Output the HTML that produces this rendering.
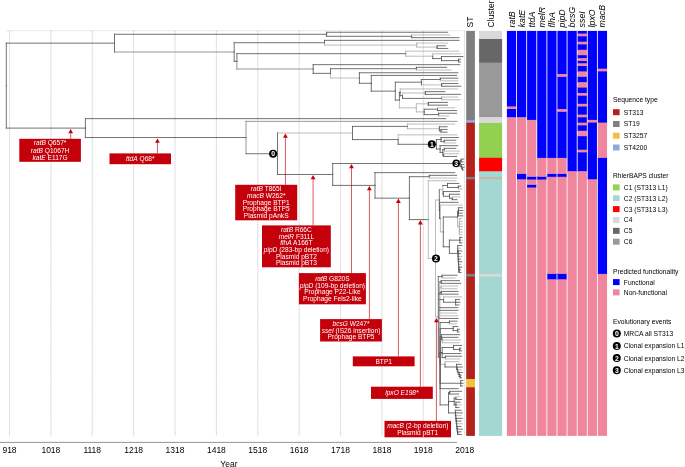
<!DOCTYPE html>
<html><head><meta charset="utf-8"><style>
html,body{margin:0;padding:0;background:#fff;}
body{width:685px;height:467px;overflow:hidden;}
svg{display:block;will-change:transform;}
text{font-family:"Liberation Sans",sans-serif;}
</style></head><body>
<svg width="685" height="467" viewBox="0 0 685 467">
<rect width="685" height="467" fill="#fff"/>
<line x1="6.0" y1="30.7" x2="465.2" y2="30.7" stroke="#e3e3e3" stroke-width="0.8"/>
<g stroke="#eeeeee" stroke-width="0.7">
<line x1="9.50" y1="30.9" x2="9.50" y2="435.8" />
<line x1="50.88" y1="30.9" x2="50.88" y2="435.8" />
<line x1="92.26" y1="30.9" x2="92.26" y2="435.8" />
<line x1="133.64" y1="30.9" x2="133.64" y2="435.8" />
<line x1="175.02" y1="30.9" x2="175.02" y2="435.8" />
<line x1="216.40" y1="30.9" x2="216.40" y2="435.8" />
<line x1="257.78" y1="30.9" x2="257.78" y2="435.8" />
<line x1="299.16" y1="30.9" x2="299.16" y2="435.8" />
<line x1="340.54" y1="30.9" x2="340.54" y2="435.8" />
<line x1="381.92" y1="30.9" x2="381.92" y2="435.8" />
<line x1="423.30" y1="30.9" x2="423.30" y2="435.8" />
<line x1="464.68" y1="30.9" x2="464.68" y2="435.8" />
</g>
<g stroke="#c0c0c0" stroke-width="0.7" stroke-dasharray="1 1.1">
<line x1="9.50" y1="30.9" x2="9.50" y2="435.8" />
<line x1="50.88" y1="30.9" x2="50.88" y2="435.8" />
<line x1="92.26" y1="30.9" x2="92.26" y2="435.8" />
<line x1="133.64" y1="30.9" x2="133.64" y2="435.8" />
<line x1="175.02" y1="30.9" x2="175.02" y2="435.8" />
<line x1="216.40" y1="30.9" x2="216.40" y2="435.8" />
<line x1="257.78" y1="30.9" x2="257.78" y2="435.8" />
<line x1="299.16" y1="30.9" x2="299.16" y2="435.8" />
<line x1="340.54" y1="30.9" x2="340.54" y2="435.8" />
<line x1="381.92" y1="30.9" x2="381.92" y2="435.8" />
<line x1="423.30" y1="30.9" x2="423.30" y2="435.8" />
<line x1="464.68" y1="30.9" x2="464.68" y2="435.8" />
</g>
<g fill="none" stroke-width="0.85" stroke-linecap="square">
<path d="M411.60 36.30V34.95M411.60 34.95H449.60M324.50 42.71V45.08M324.50 45.08H416.70M416.70 45.08V43.05M416.70 43.05H447.70M416.70 45.08V47.10M416.70 47.10H437.10M405.70 53.68V51.15M405.70 51.15H458.80M405.70 53.68V56.21M405.70 56.21H432.70M432.70 56.21V53.85M432.70 53.85H460.40M416.40 68.70V70.05M416.40 70.05H450.90M330.50 73.36V78.02M330.50 78.02H359.40M440.30 79.50V80.85M440.30 80.85H457.90M421.40 84.90H441.60M400.20 92.33V88.95M400.20 88.95H457.90M402.50 95.70V93.00M402.50 93.00H425.30M441.60 98.40V97.05M441.60 97.05H457.90M441.60 98.40V99.75M441.60 99.75H460.30M399.40 100.09V107.85M399.40 107.85H416.30M416.30 107.85V103.80M416.30 103.80H428.30M416.30 107.85V111.90M416.30 111.90H424.20M437.50 109.20V107.85M437.50 107.85H454.70M438.60 114.60V115.95M438.60 115.95H448.80M277.50 132.99H352.50M407.40 126.41V124.05M407.40 124.05H454.80M407.40 126.41V128.78M407.40 128.78H439.40M398.20 139.58V134.85M398.20 134.85H457.00M444.20 141.60V142.95M444.20 142.95H455.80M444.40 149.70V151.05M444.40 151.05H459.60M443.60 155.10V153.75M443.60 153.75H458.50M429.30 176.70V178.05M429.30 178.05H456.60M428.30 219.60V180.75M428.30 180.75H456.10M428.30 219.60V258.45M428.30 258.45H435.50M435.50 258.45V200.05M435.50 200.05H439.30M439.30 189.69H442.70M442.70 189.69V185.48M458.40 187.50V188.85M458.40 188.85H462.00M442.70 189.69V193.91M452.30 198.30V196.95M452.30 196.95H460.00M440.40 218.47V205.05M440.40 205.05H462.20M440.40 218.47V231.89M440.40 231.89H443.30M457.50 217.00V226.65M457.50 226.65H459.40M459.40 226.65V218.55M459.40 218.55H461.80M459.40 226.65V221.25M459.40 221.25H462.40M459.40 226.65V223.95M459.40 223.95H461.80M459.40 226.65V226.65M459.40 226.65H462.40M459.40 226.65V229.35M459.40 229.35H461.80M459.40 226.65V232.05M459.40 232.05H462.40M459.40 226.65V234.75M459.40 234.75H461.80M459.80 240.15V240.15M459.80 240.15H462.60M457.85 250.94V248.25M457.85 248.25H460.60M458.30 259.01V256.35M458.30 256.35H461.80M458.75 266.81V264.45M458.75 264.45H460.60M435.50 258.45V316.85M435.50 316.85H438.30M442.10 276.60V277.95M442.10 277.95H455.00M439.00 357.10V294.15M439.60 294.15V282.00M439.60 294.15V287.40M439.60 287.40H441.20M441.20 287.40V286.05M441.20 286.05H458.00M441.20 287.40V288.75M441.20 288.75H457.00M439.60 294.15V292.80M439.60 294.15V299.55M443.60 299.55V296.85M443.60 296.85H461.50M439.60 294.15V307.65M439.60 294.15V310.35M439.60 294.15V313.05M439.60 313.05H456.60M439.60 294.15V315.75M439.60 315.75H458.00M439.60 294.15V318.45M439.00 357.10V353.55M449.40 322.50V323.85M449.40 323.85H456.60M442.00 339.38V341.40M442.00 341.40H442.60M442.60 341.40V340.05M442.60 340.05H460.60M442.60 341.40V342.75M442.60 342.75H459.00M445.30 357.60V358.95M445.30 358.95H459.80M440.10 364.31H445.00M445.00 364.31V361.65M445.00 361.65H458.70M458.30 372.11V369.75M458.30 369.75H461.10M455.90 398.10V396.75M455.90 396.75H459.50M455.90 404.85V404.85M455.90 404.85H461.00M456.00 418.33V415.65M456.00 415.65H461.10M456.90 426.28V423.75M456.90 423.75H462.30" stroke="#b0b0b0"/>
<path d="M114.50 52.03H234.20M236.90 61.34V69.01M236.90 69.01H313.20M246.00 137.54V121.35M246.00 121.35H457.00M246.00 137.54V153.73" stroke="#858585"/>
<path d="M6.30 85.62V43.15M6.30 43.15H114.50M114.50 43.15V34.27M114.50 34.27H326.60M326.60 34.27V32.25M326.60 32.25H447.60M326.60 34.27V36.30M326.60 36.30H411.60M411.60 36.30V37.65M411.60 37.65H459.00M114.50 43.15V52.03M234.20 52.03V42.71M234.20 42.71H324.50M324.50 42.71V40.35M324.50 40.35H459.00M437.10 47.10V45.75M437.10 45.75H445.30M437.10 47.10V48.45M437.10 48.45H447.80M234.20 52.03V61.34M234.20 61.34H236.90M236.90 61.34V53.68M236.90 53.68H405.70M432.70 56.21V58.58M432.70 58.58H441.50M441.50 58.58V56.55M441.50 56.55H462.90M441.50 58.58V60.60M441.50 60.60H458.60M458.60 60.60V59.25M458.60 59.25H460.40M458.60 60.60V61.95M458.60 61.95H460.40M313.20 69.01V64.65M313.20 64.65H459.70M313.20 69.01V73.36M313.20 73.36H330.50M330.50 73.36V68.70M330.50 68.70H416.40M416.40 68.70V67.35M416.40 67.35H446.50M359.40 78.02V72.75M359.40 72.75H457.80M359.40 78.02V83.30M359.40 83.30H371.30M371.30 83.30V75.45M371.30 75.45H456.60M371.30 83.30V91.14M371.30 91.14H395.30M395.30 91.14V82.20M395.30 82.20H421.40M421.40 82.20V79.50M421.40 79.50H440.30M440.30 79.50V78.15M440.30 78.15H457.90M421.40 82.20V84.90M441.60 84.90V83.55M441.60 83.55H457.90M441.60 84.90V86.25M441.60 86.25H460.80M395.30 91.14V100.09M395.30 100.09H399.40M399.40 100.09V92.33M399.40 92.33H400.20M400.20 92.33V95.70M400.20 95.70H402.50M425.30 93.00V91.65M425.30 91.65H444.90M425.30 93.00V94.35M425.30 94.35H460.50M402.50 95.70V98.40M402.50 98.40H441.60M428.30 103.80V102.45M428.30 102.45H447.50M428.30 103.80V105.15M428.30 105.15H447.50M424.20 111.90V109.20M424.20 109.20H437.50M437.50 109.20V110.55M437.50 110.55H456.60M424.20 111.90V114.60M424.20 114.60H438.60M438.60 114.60V113.25M438.60 113.25H456.60M6.30 85.62V128.10M6.30 128.10H85.40M85.40 128.10V118.65M85.40 118.65H445.80M85.40 128.10V137.54M85.40 137.54H246.00M246.00 153.73H277.50M277.50 153.73V132.99M352.50 132.99V126.41M352.50 126.41H407.40M439.40 128.78V126.75M439.40 126.75H447.10M439.40 128.78V130.80M439.40 130.80H441.00M441.00 130.80V129.45M441.00 129.45H447.10M441.00 130.80V132.15M441.00 132.15H447.10M352.50 132.99V139.58M352.50 139.58H398.20M398.20 139.58V144.30M398.20 144.30H436.40M436.40 144.30V139.57M436.40 139.57H441.00M441.00 139.57V137.55M441.00 137.55H458.50M441.00 139.57V141.60M441.00 141.60H444.20M444.20 141.60V140.25M444.20 140.25H455.80M436.40 144.30V149.03M436.40 149.03H440.10M440.10 149.03V145.65M440.10 145.65H457.80M440.10 149.03V152.40M440.10 152.40H442.80M442.80 152.40V149.70M442.80 149.70H444.40M444.40 149.70V148.35M444.40 148.35H455.80M442.80 152.40V155.10M442.80 155.10H443.60M443.60 155.10V156.45M443.60 156.45H456.80M277.50 153.73V174.47M277.50 174.47H332.70M332.70 174.47V163.54M332.70 163.54H460.30M460.30 163.54V160.50M460.30 160.50H461.10M461.10 160.50V159.15M461.10 159.15H463.60M461.10 160.50V161.85M461.10 161.85H463.20M460.30 163.54V166.58M460.30 166.58H461.50M461.50 166.58V164.55M461.50 164.55H463.60M461.50 166.58V168.60M461.50 168.60H462.50M462.50 168.60V167.25M462.50 167.25H464.00M462.50 168.60V169.95M462.50 169.95H463.40M332.70 174.47V185.40M332.70 185.40H375.00M375.00 185.40V172.65M375.00 172.65H454.70M375.00 185.40V198.15M375.00 198.15H409.40M409.40 198.15V176.70M409.40 176.70H429.30M429.30 176.70V175.35M429.30 175.35H456.60M409.40 198.15V219.60M409.40 219.60H428.30M439.30 200.05V189.69M442.70 185.48H447.50M447.50 185.48V183.45M447.50 183.45H458.80M447.50 185.48V187.50M447.50 187.50H458.40M458.40 187.50V186.15M458.40 186.15H461.00M442.70 193.91H443.40M443.40 193.91V191.55M443.40 191.55H459.50M443.40 193.91V196.28M443.40 196.28H449.50M449.50 196.28V194.25M449.50 194.25H459.50M449.50 196.28V198.30M449.50 198.30H452.30M452.30 198.30V199.65M452.30 199.65H457.00M439.30 200.05V210.41M439.30 210.41H439.50M439.50 210.41V202.35M439.50 202.35H458.10M439.50 210.41V218.47M439.50 218.47H440.40M443.30 231.89V217.00M443.30 217.00H457.50M457.50 217.00V211.80M457.50 211.80H458.40M458.40 211.80V207.75M458.40 207.75H462.30M458.40 211.80V210.45M458.40 210.45H462.90M458.40 211.80V213.15M458.40 213.15H462.30M458.40 211.80V215.85M458.40 215.85H462.90M443.30 231.89V246.78M443.30 246.78H449.40M449.40 246.78V240.15M449.40 240.15H459.80M459.80 240.15V237.45M459.80 237.45H462.00M459.80 240.15V242.85M459.80 242.85H462.00M449.40 246.78V253.40M449.40 253.40H457.70M457.70 253.40V245.55M457.70 245.55H461.80M457.70 253.40V250.94M457.70 250.94H457.85M457.85 250.94V253.64M457.85 253.64H458.00M458.00 253.64V250.95M458.00 250.95H461.80M458.00 253.64V256.33M458.00 256.33H458.15M458.15 256.33V253.65M458.15 253.65H460.60M458.15 256.33V259.01M458.15 259.01H458.30M458.30 259.01V261.67M458.30 261.67H458.45M458.45 261.67V259.05M458.45 259.05H460.60M458.45 261.67V264.28M458.45 264.28H458.60M458.60 264.28V261.75M458.60 261.75H461.80M458.60 264.28V266.81M458.60 266.81H458.75M458.75 266.81V269.18M458.75 269.18H458.90M458.90 269.18V267.15M458.90 267.15H461.80M458.90 269.18V271.20M458.90 271.20H459.05M459.05 271.20V269.85M459.05 269.85H460.60M459.05 271.20V272.55M459.05 272.55H461.00M438.30 316.85V276.60M438.30 276.60H442.10M442.10 276.60V275.25M442.10 275.25H457.00M438.30 316.85V357.10M438.30 357.10H439.00M439.00 294.15H439.60M439.60 282.00H441.20M441.20 282.00V280.65M441.20 280.65H459.50M441.20 282.00V283.35M441.20 283.35H460.70M439.60 292.80H441.20M441.20 292.80V291.45M441.20 291.45H458.00M441.20 292.80V294.15M441.20 294.15H458.00M439.60 299.55H443.60M443.60 299.55V302.25M443.60 302.25H455.60M455.60 302.25V299.55M455.60 299.55H459.50M455.60 302.25V302.25M455.60 302.25H460.00M455.60 302.25V304.95M455.60 304.95H459.00M439.60 307.65H457.90M439.60 310.35H458.00M439.60 318.45H458.00M439.00 353.55H440.10M440.10 353.55V322.50M440.10 322.50H449.40M449.40 322.50V321.15M449.40 321.15H457.00M440.10 353.55V328.58M440.10 328.58H453.20M453.20 328.58V326.55M453.20 326.55H457.90M453.20 328.58V330.60M453.20 330.60H457.60M457.60 330.60V329.25M457.60 329.25H459.50M457.60 330.60V331.95M457.60 331.95H459.00M440.10 353.55V337.01M440.10 337.01H441.40M441.40 337.01V334.65M441.40 334.65H459.80M441.40 337.01V339.38M441.40 339.38H442.00M442.00 339.38V337.35M442.00 337.35H458.00M440.10 353.55V352.54M440.10 352.54H442.20M442.20 352.54V347.48M442.20 347.48H453.50M453.50 347.48V345.45M453.50 345.45H461.50M453.50 347.48V349.50M453.50 349.50H459.70M459.70 349.50V348.15M459.70 348.15H461.00M459.70 349.50V350.85M459.70 350.85H461.50M442.20 352.54V353.55M442.20 353.55H460.70M442.20 352.54V357.60M442.20 357.60H445.30M445.30 357.60V356.25M445.30 356.25H461.50M440.10 353.55V364.31M445.00 364.31V366.97M445.00 366.97H456.50M456.50 366.97V364.35M456.50 364.35H461.10M456.50 366.97V369.58M456.50 369.58H457.40M457.40 369.58V367.05M457.40 367.05H462.30M457.40 369.58V372.11M457.40 372.11H458.30M458.30 372.11V374.48M458.30 374.48H459.20M459.20 374.48V372.45M459.20 372.45H462.30M459.20 374.48V376.50M459.20 376.50H460.10M460.10 376.50V375.15M460.10 375.15H461.10M460.10 376.50V377.85M460.10 377.85H461.50M440.10 353.55V383.25M440.10 383.25H460.70M460.70 383.25V380.55M460.70 380.55H462.80M460.70 383.25V383.25M460.70 383.25H463.20M460.70 383.25V385.95M460.70 385.95H462.60M440.10 353.55V388.65M440.10 388.65H458.00M440.10 353.55V404.90M440.10 404.90H448.50M448.50 404.90V392.70M448.50 392.70H449.70M449.70 392.70V391.35M449.70 391.35H461.70M449.70 392.70V394.05M449.70 394.05H458.60M448.50 404.90V401.48M448.50 401.48H454.20M454.20 401.48V398.10M454.20 398.10H455.90M455.90 398.10V399.45M455.90 399.45H461.50M454.20 401.48V404.85M454.20 404.85H455.90M455.90 404.85V402.15M455.90 402.15H460.00M455.90 404.85V407.55M455.90 407.55H459.00M448.50 404.90V412.94M448.50 412.94H455.40M455.40 412.94V410.25M455.40 410.25H461.10M455.40 412.94V415.64M455.40 415.64H455.70M455.70 415.64V412.95M455.70 412.95H462.30M455.70 415.64V418.33M455.70 418.33H456.00M456.00 418.33V421.01M456.00 421.01H456.30M456.30 421.01V418.35M456.30 418.35H462.30M456.30 421.01V423.67M456.30 423.67H456.60M456.60 423.67V421.05M456.60 421.05H461.10M456.60 423.67V426.28M456.60 426.28H456.90M456.90 426.28V428.81M456.90 428.81H457.20M457.20 428.81V426.45M457.20 426.45H461.10M457.20 428.81V431.18M457.20 431.18H457.50M457.50 431.18V429.15M457.50 429.15H462.30M457.50 431.18V433.20M457.50 433.20H457.80M457.80 433.20V431.85M457.80 431.85H461.10M457.80 433.20V434.55M457.80 434.55H461.50" stroke="#5a5a5a"/>
</g>
<g stroke="#c4000b" stroke-width="0.65" fill="#c4000b">
<line x1="70.70" y1="132.40" x2="70.70" y2="138.80"/>
<path d="M70.70 128.90L68.30 133.20L73.10 133.20Z" stroke="none"/>
<line x1="157.40" y1="141.90" x2="157.40" y2="153.40"/>
<path d="M157.40 138.40L155.00 142.70L159.80 142.70Z" stroke="none"/>
<line x1="285.40" y1="136.90" x2="285.40" y2="184.80"/>
<path d="M285.40 133.40L283.00 137.70L287.80 137.70Z" stroke="none"/>
<line x1="313.10" y1="178.50" x2="313.10" y2="225.40"/>
<path d="M313.10 175.00L310.70 179.30L315.50 179.30Z" stroke="none"/>
<line x1="351.50" y1="167.50" x2="351.50" y2="273.10"/>
<path d="M351.50 164.00L349.10 168.30L353.90 168.30Z" stroke="none"/>
<line x1="369.40" y1="189.40" x2="369.40" y2="319.10"/>
<path d="M369.40 185.90L367.00 190.20L371.80 190.20Z" stroke="none"/>
<line x1="398.40" y1="202.10" x2="398.40" y2="356.40"/>
<path d="M398.40 198.60L396.00 202.90L400.80 202.90Z" stroke="none"/>
<line x1="420.40" y1="223.60" x2="420.40" y2="386.70"/>
<path d="M420.40 220.10L418.00 224.40L422.80 224.40Z" stroke="none"/>
<line x1="436.40" y1="321.40" x2="436.40" y2="420.90"/>
<path d="M436.40 317.90L434.00 322.20L438.80 322.20Z" stroke="none"/>
</g>
<g font-size="6.6" fill="#fff" text-anchor="middle">
<rect x="19.30" y="138.80" width="61.60" height="23.00" fill="#c4000b"/>
<g transform="translate(50.10 0)">
<text x="0" y="145.20"><tspan font-style="italic">ratB</tspan> Q657*</text>
<text x="0" y="152.50"><tspan font-style="italic">ratB</tspan> Q1067H</text>
<text x="0" y="159.80"><tspan font-style="italic">katE</tspan> E117G</text>
</g>
<rect x="109.50" y="153.40" width="61.50" height="10.80" fill="#c4000b"/>
<g transform="translate(140.25 0)">
<text x="0" y="161.00"><tspan font-style="italic">ttdA</tspan> Q68*</text>
</g>
<rect x="235.20" y="184.80" width="62.00" height="35.50" fill="#c4000b"/>
<g transform="translate(266.20 0)">
<text x="0" y="191.39"><tspan font-style="italic">ratB</tspan> T865I</text>
<text x="0" y="198.07"><tspan font-style="italic">macB</tspan> W262*</text>
<text x="0" y="204.75">Prophage BTP1</text>
<text x="0" y="211.43">Prophage BTP5</text>
<text x="0" y="218.11">Plasmid pAnkS</text>
</g>
<rect x="262.00" y="225.40" width="68.80" height="41.90" fill="#c4000b"/>
<g transform="translate(296.40 0)">
<text x="0" y="231.85"><tspan font-style="italic">ratB</tspan> R66C</text>
<text x="0" y="238.53"><tspan font-style="italic">melR</tspan> F311L</text>
<text x="0" y="245.21"><tspan font-style="italic">flhA</tspan> A166T</text>
<text x="0" y="251.89"><tspan font-style="italic">pipD</tspan> (283-bp deletion)</text>
<text x="0" y="258.57">Plasmid pBT2</text>
<text x="0" y="265.25">Plasmid pBT3</text>
</g>
<rect x="298.90" y="273.10" width="67.00" height="31.20" fill="#c4000b"/>
<g transform="translate(332.40 0)">
<text x="0" y="280.88"><tspan font-style="italic">ratB</tspan> G820S</text>
<text x="0" y="287.56"><tspan font-style="italic">pipD</tspan> (109-bp deletion)</text>
<text x="0" y="294.24">Prophage P22-Like</text>
<text x="0" y="300.92">Prophage Fels2-like</text>
</g>
<rect x="320.10" y="319.10" width="61.80" height="22.40" fill="#c4000b"/>
<g transform="translate(351.00 0)">
<text x="0" y="325.82"><tspan font-style="italic">bcsG</tspan> W247*</text>
<text x="0" y="332.50"><tspan font-style="italic">sseI</tspan> (IS26 insertion)</text>
<text x="0" y="339.18">Prophage BTP5</text>
</g>
<rect x="352.80" y="356.40" width="61.80" height="9.90" fill="#c4000b"/>
<g transform="translate(383.70 0)">
<text x="0" y="363.55">BTP1</text>
</g>
<rect x="371.00" y="386.70" width="61.80" height="12.20" fill="#c4000b"/>
<g transform="translate(401.90 0)">
<text x="0" y="395.00"><tspan font-style="italic">lpxO E198*</tspan></text>
</g>
<rect x="384.50" y="420.90" width="66.50" height="16.40" fill="#c4000b"/>
<g transform="translate(417.75 0)">
<text x="0" y="427.96"><tspan font-style="italic">macB</tspan> (2-bp deletion)</text>
<text x="0" y="434.64">Plasmid pBT1</text>
</g>
</g>
<circle cx="273.10" cy="153.70" r="4.00" fill="#000"/><text x="273.10" y="156.20" fill="#fff" font-size="6.9" font-weight="bold" text-anchor="middle">0</text>
<circle cx="431.80" cy="144.20" r="4.00" fill="#000"/><text x="431.80" y="146.70" fill="#fff" font-size="6.9" font-weight="bold" text-anchor="middle">1</text>
<circle cx="436.00" cy="258.50" r="4.00" fill="#000"/><text x="436.00" y="261.00" fill="#fff" font-size="6.9" font-weight="bold" text-anchor="middle">2</text>
<circle cx="456.20" cy="163.40" r="3.80" fill="#000"/><text x="456.20" y="165.90" fill="#fff" font-size="6.9" font-weight="bold" text-anchor="middle">3</text>
<rect x="466.20" y="276.00" width="8.70" height="103.60" fill="#b2221a"/>
<rect x="466.20" y="178.70" width="8.70" height="95.80" fill="#b2221a"/>
<rect x="466.20" y="30.90" width="8.70" height="89.80" fill="#7f7f7f"/>
<rect x="466.20" y="122.10" width="8.70" height="55.40" fill="#b2221a"/>
<rect x="466.20" y="386.70" width="8.70" height="49.20" fill="#b2221a"/>
<rect x="466.20" y="379.00" width="8.70" height="8.30" fill="#f2c040"/>
<rect x="466.20" y="273.90" width="8.70" height="2.70" fill="#7f7f7f"/>
<rect x="466.20" y="120.10" width="8.70" height="2.60" fill="#8eaadc"/>
<rect x="466.20" y="176.90" width="8.70" height="2.40" fill="#7f7f7f"/>
<rect x="479.10" y="276.00" width="23.00" height="159.90" fill="#a3d8d2"/>
<rect x="479.10" y="178.70" width="23.00" height="95.80" fill="#a3d8d2"/>
<rect x="479.10" y="62.10" width="23.00" height="55.60" fill="#999999"/>
<rect x="479.10" y="122.30" width="23.00" height="36.10" fill="#92d050"/>
<rect x="479.10" y="38.40" width="23.00" height="24.30" fill="#676767"/>
<rect x="479.10" y="157.80" width="23.00" height="14.10" fill="#ff0000"/>
<rect x="479.10" y="30.90" width="23.00" height="8.10" fill="#d9d9d9"/>
<rect x="479.10" y="117.10" width="23.00" height="5.80" fill="#d9d9d9"/>
<rect x="479.10" y="171.30" width="23.00" height="6.20" fill="#a3d8d2"/>
<rect x="479.10" y="273.90" width="23.00" height="2.70" fill="#d9d9d9"/>
<rect x="479.10" y="176.90" width="23.00" height="2.40" fill="#c2b9ad"/>
<rect x="506.90" y="30.90" width="9.25" height="76.10" fill="#0000ff"/>
<rect x="506.90" y="108.40" width="9.25" height="9.40" fill="#0000ff"/>
<rect x="506.90" y="106.40" width="9.25" height="2.60" fill="#f0859e"/>
<rect x="506.90" y="117.20" width="9.25" height="318.70" fill="#f0859e"/>
<rect x="517.00" y="30.90" width="9.25" height="86.90" fill="#0000ff"/>
<rect x="517.00" y="173.30" width="9.25" height="6.60" fill="#0000ff"/>
<rect x="517.00" y="117.20" width="9.25" height="56.70" fill="#f0859e"/>
<rect x="517.00" y="179.30" width="9.25" height="256.60" fill="#f0859e"/>
<rect x="527.10" y="30.90" width="9.25" height="89.60" fill="#0000ff"/>
<rect x="527.10" y="176.20" width="9.25" height="3.90" fill="#0000ff"/>
<rect x="527.10" y="184.20" width="9.25" height="3.90" fill="#0000ff"/>
<rect x="527.10" y="119.90" width="9.25" height="56.90" fill="#f0859e"/>
<rect x="527.10" y="179.50" width="9.25" height="5.30" fill="#f0859e"/>
<rect x="527.10" y="187.50" width="9.25" height="248.40" fill="#f0859e"/>
<rect x="537.20" y="30.90" width="9.25" height="127.60" fill="#0000ff"/>
<rect x="537.20" y="176.20" width="9.25" height="3.90" fill="#0000ff"/>
<rect x="537.20" y="157.90" width="9.25" height="18.90" fill="#f0859e"/>
<rect x="537.20" y="179.50" width="9.25" height="256.40" fill="#f0859e"/>
<rect x="547.30" y="30.90" width="9.25" height="127.60" fill="#0000ff"/>
<rect x="547.30" y="173.35" width="9.25" height="4.05" fill="#0000ff"/>
<rect x="547.30" y="273.30" width="9.25" height="6.60" fill="#0000ff"/>
<rect x="547.30" y="157.90" width="9.25" height="16.05" fill="#f0859e"/>
<rect x="547.30" y="176.80" width="9.25" height="97.10" fill="#f0859e"/>
<rect x="547.30" y="279.30" width="9.25" height="156.60" fill="#f0859e"/>
<rect x="557.40" y="30.90" width="9.25" height="43.75" fill="#0000ff"/>
<rect x="557.40" y="76.20" width="9.25" height="33.40" fill="#0000ff"/>
<rect x="557.40" y="111.20" width="9.25" height="47.30" fill="#0000ff"/>
<rect x="557.40" y="173.35" width="9.25" height="4.05" fill="#0000ff"/>
<rect x="557.40" y="273.30" width="9.25" height="6.60" fill="#0000ff"/>
<rect x="557.40" y="74.05" width="9.25" height="2.75" fill="#f0859e"/>
<rect x="557.40" y="109.00" width="9.25" height="2.80" fill="#f0859e"/>
<rect x="557.40" y="157.90" width="9.25" height="16.05" fill="#f0859e"/>
<rect x="557.40" y="176.80" width="9.25" height="97.10" fill="#f0859e"/>
<rect x="557.40" y="279.30" width="9.25" height="156.60" fill="#f0859e"/>
<rect x="567.50" y="30.90" width="9.25" height="140.90" fill="#0000ff"/>
<rect x="567.50" y="171.20" width="9.25" height="264.70" fill="#f0859e"/>
<rect x="577.60" y="30.90" width="9.25" height="3.30" fill="#0000ff"/>
<rect x="577.60" y="35.70" width="9.25" height="6.60" fill="#0000ff"/>
<rect x="577.60" y="43.80" width="9.25" height="6.60" fill="#0000ff"/>
<rect x="577.60" y="54.60" width="9.25" height="4.20" fill="#0000ff"/>
<rect x="577.60" y="60.30" width="9.25" height="3.60" fill="#0000ff"/>
<rect x="577.60" y="65.40" width="9.25" height="6.60" fill="#0000ff"/>
<rect x="577.60" y="76.20" width="9.25" height="6.60" fill="#0000ff"/>
<rect x="577.60" y="87.00" width="9.25" height="6.60" fill="#0000ff"/>
<rect x="577.60" y="95.10" width="9.25" height="9.30" fill="#0000ff"/>
<rect x="577.60" y="105.90" width="9.25" height="9.30" fill="#0000ff"/>
<rect x="577.60" y="116.70" width="9.25" height="6.60" fill="#0000ff"/>
<rect x="577.60" y="124.80" width="9.25" height="6.60" fill="#0000ff"/>
<rect x="577.60" y="135.60" width="9.25" height="14.70" fill="#0000ff"/>
<rect x="577.60" y="151.80" width="9.25" height="20.00" fill="#0000ff"/>
<rect x="577.60" y="33.60" width="9.25" height="2.70" fill="#f0859e"/>
<rect x="577.60" y="41.70" width="9.25" height="2.70" fill="#f0859e"/>
<rect x="577.60" y="49.80" width="9.25" height="5.40" fill="#f0859e"/>
<rect x="577.60" y="58.20" width="9.25" height="2.70" fill="#f0859e"/>
<rect x="577.60" y="63.30" width="9.25" height="2.70" fill="#f0859e"/>
<rect x="577.60" y="71.40" width="9.25" height="5.40" fill="#f0859e"/>
<rect x="577.60" y="82.20" width="9.25" height="5.40" fill="#f0859e"/>
<rect x="577.60" y="93.00" width="9.25" height="2.70" fill="#f0859e"/>
<rect x="577.60" y="103.80" width="9.25" height="2.70" fill="#f0859e"/>
<rect x="577.60" y="114.60" width="9.25" height="2.70" fill="#f0859e"/>
<rect x="577.60" y="122.70" width="9.25" height="2.70" fill="#f0859e"/>
<rect x="577.60" y="130.80" width="9.25" height="5.40" fill="#f0859e"/>
<rect x="577.60" y="149.70" width="9.25" height="2.70" fill="#f0859e"/>
<rect x="577.60" y="171.20" width="9.25" height="264.70" fill="#f0859e"/>
<rect x="587.70" y="30.90" width="9.25" height="89.60" fill="#0000ff"/>
<rect x="587.70" y="122.00" width="9.25" height="57.90" fill="#0000ff"/>
<rect x="587.70" y="119.90" width="9.25" height="2.70" fill="#f0859e"/>
<rect x="587.70" y="179.30" width="9.25" height="256.60" fill="#f0859e"/>
<rect x="597.80" y="30.90" width="9.25" height="38.40" fill="#0000ff"/>
<rect x="597.80" y="70.80" width="9.25" height="52.40" fill="#0000ff"/>
<rect x="597.80" y="157.30" width="9.25" height="117.20" fill="#0000ff"/>
<rect x="597.80" y="68.70" width="9.25" height="2.70" fill="#f0859e"/>
<rect x="597.80" y="122.60" width="9.25" height="35.30" fill="#f0859e"/>
<rect x="597.80" y="273.90" width="9.25" height="162.00" fill="#f0859e"/>
<g font-size="8.5" fill="#000">
<text transform="translate(473.4 27.4) rotate(-90)">ST</text>
<text transform="translate(494.0 27.4) rotate(-90)">Cluster</text>
<text font-style="italic" font-size="8.8" transform="translate(514.90 27.4) rotate(-90)">ratB</text>
<text font-style="italic" font-size="8.8" transform="translate(524.94 27.4) rotate(-90)">katE</text>
<text font-style="italic" font-size="8.8" transform="translate(534.98 27.4) rotate(-90)">ttdA</text>
<text font-style="italic" font-size="8.8" transform="translate(545.02 27.4) rotate(-90)">melR</text>
<text font-style="italic" font-size="8.8" transform="translate(555.06 27.4) rotate(-90)">flhA</text>
<text font-style="italic" font-size="8.8" transform="translate(565.10 27.4) rotate(-90)">pipD</text>
<text font-style="italic" font-size="8.8" transform="translate(575.14 27.4) rotate(-90)">bcsG</text>
<text font-style="italic" font-size="8.8" transform="translate(585.18 27.4) rotate(-90)">sseI</text>
<text font-style="italic" font-size="8.8" transform="translate(595.22 27.4) rotate(-90)">lpxO</text>
<text font-style="italic" font-size="8.8" transform="translate(605.26 27.4) rotate(-90)">macB</text>
</g>
<line x1="0" y1="442.4" x2="457.0" y2="442.4" stroke="#7a7a7a" stroke-width="0.8"/>
<g font-size="8.5" fill="#000" text-anchor="middle">
<text x="9.50" y="452.9">918</text>
<text x="50.88" y="452.9">1018</text>
<text x="92.26" y="452.9">1118</text>
<text x="133.64" y="452.9">1218</text>
<text x="175.02" y="452.9">1318</text>
<text x="216.40" y="452.9">1418</text>
<text x="257.78" y="452.9">1518</text>
<text x="299.16" y="452.9">1618</text>
<text x="340.54" y="452.9">1718</text>
<text x="381.92" y="452.9">1818</text>
<text x="423.30" y="452.9">1918</text>
<text x="464.68" y="452.9">2018</text>
<text x="228.9" y="467.1">Year</text>
</g>
<g font-size="6.7" fill="#000">
<text x="613.00" y="102.20">Sequence type</text>
<rect x="613.00" y="109.20" width="6.6" height="6.0" fill="#b2221a"/>
<text x="623.80" y="114.60">ST313</text>
<rect x="613.00" y="120.97" width="6.6" height="6.0" fill="#7f7f7f"/>
<text x="623.80" y="126.37">ST19</text>
<rect x="613.00" y="132.74" width="6.6" height="6.0" fill="#f2c040"/>
<text x="623.80" y="138.14">ST3257</text>
<rect x="613.00" y="144.51" width="6.6" height="6.0" fill="#8eaadc"/>
<text x="623.80" y="149.91">ST4200</text>
<text x="613.00" y="178.00">RhierBAPS cluster</text>
<rect x="613.00" y="184.40" width="6.6" height="6.0" fill="#92d050"/>
<text x="623.80" y="189.80">C1 (ST313 L1)</text>
<rect x="613.00" y="195.26" width="6.6" height="6.0" fill="#a3d8d2"/>
<text x="623.80" y="200.66">C2 (ST313 L2)</text>
<rect x="613.00" y="206.12" width="6.6" height="6.0" fill="#ff0000"/>
<text x="623.80" y="211.52">C3 (ST313 L3)</text>
<rect x="613.00" y="216.98" width="6.6" height="6.0" fill="#d9d9d9"/>
<text x="623.80" y="222.38">C4</text>
<rect x="613.00" y="227.84" width="6.6" height="6.0" fill="#676767"/>
<text x="623.80" y="233.24">C5</text>
<rect x="613.00" y="238.70" width="6.6" height="6.0" fill="#999999"/>
<text x="623.80" y="244.10">C6</text>
<text x="613.00" y="273.80">Predicted functionality</text>
<rect x="613.00" y="279.10" width="6.6" height="6.0" fill="#0000ff"/>
<text x="623.80" y="284.50">Functional</text>
<rect x="613.00" y="289.40" width="6.6" height="6.0" fill="#f0859e"/>
<text x="623.80" y="294.80">Non-functional</text>
<text x="613.00" y="324.00">Evolutionary events</text>
<circle cx="616.80" cy="333.50" r="4.00" fill="#000"/><text x="616.80" y="336.00" fill="#fff" font-size="6.9" font-weight="bold" text-anchor="middle">0</text>
<text x="623.80" y="335.90">MRCA all ST313</text>
<circle cx="616.80" cy="346.00" r="4.00" fill="#000"/><text x="616.80" y="348.50" fill="#fff" font-size="6.9" font-weight="bold" text-anchor="middle">1</text>
<text x="623.80" y="348.40">Clonal expansion L1</text>
<circle cx="616.80" cy="358.10" r="4.00" fill="#000"/><text x="616.80" y="360.60" fill="#fff" font-size="6.9" font-weight="bold" text-anchor="middle">2</text>
<text x="623.80" y="360.50">Clonal expansion L2</text>
<circle cx="616.80" cy="370.30" r="4.00" fill="#000"/><text x="616.80" y="372.80" fill="#fff" font-size="6.9" font-weight="bold" text-anchor="middle">3</text>
<text x="623.80" y="372.70">Clonal expansion L3</text>
</g>
</svg>
</body></html>
